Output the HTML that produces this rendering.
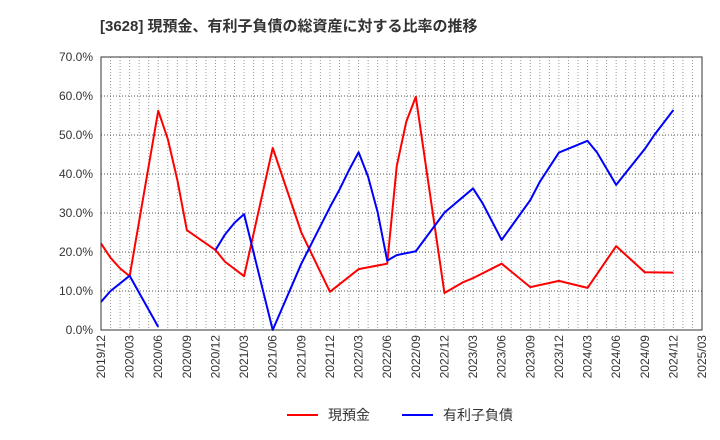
<!DOCTYPE html>
<html><head><meta charset="utf-8"><style>
body{margin:0;background:#fff;}
svg{display:block;font-family:"Liberation Sans","Noto Sans CJK JP",sans-serif;}
</style></head><body>
<svg id="c" width="720" height="440">
<text x="100" y="31" font-size="15" font-weight="bold" fill="#333">[3628]  現預金、有利子負債の総資産に対する比率の推移</text>
<g id="grid"></g><g id="series"></g><g id="axes"></g>
<g>
<line x1="287" y1="415" x2="318" y2="415" stroke="#f00" stroke-width="2"/>
<text x="328" y="420" font-size="14" fill="#333">現預金</text>
<line x1="402" y1="415" x2="433" y2="415" stroke="#00f" stroke-width="2"/>
<text x="443" y="420" font-size="14" fill="#333">有利子負債</text>
</g>
</svg>
<script>
const xTickLabels=["2019/12","2020/03","2020/06","2020/09","2020/12","2021/03","2021/06","2021/09","2021/12","2022/03","2022/06","2022/09","2022/12","2023/03","2023/06","2023/09","2023/12","2024/03","2024/06","2024/09","2024/12","2025/03"];
const yTicks=[0,10,20,30,40,50,60,70];
const cashMonths=[0,1,2,3,6,7,8,9,12,13,15,18,21,24,27,30,31,32,33,36,38,39,42,45,48,51,54,57,60];
const cashValues=[22.2,18.5,15.8,13.8,56.2,49,38.5,25.6,20.5,17.5,13.8,46.7,25,9.8,15.6,17,42,53.4,59.8,9.5,12.3,13.3,17,11,12.6,10.8,21.5,14.8,14.7];
const debtMonths=[0,1,3,6];
const debtValues=[7.2,10,13.9,0.8];
const debtMonths2=[12,13,14,15,18,21,24,25,26,27,28,29,30,31,33,36,39,40,42,45,46,48,51,52,54,57,58,60];
const debtValues2=[20.5,24.5,27.5,29.7,0,17,31.5,36,41,45.6,39.3,30.2,17.8,19.2,20.2,30.1,36.3,32.5,23.1,33.3,38,45.5,48.5,45.5,37.2,46.4,50,56.4];
const L=101,R=702,T=57,B=330,NM=63;
const X=m=>L+(R-L)*m/NM, Y=v=>B-(B-T)*v/70;
const ns="http://www.w3.org/2000/svg";
function mk(t,a,p){const e=document.createElementNS(ns,t);for(const k in a)e.setAttribute(k,a[k]);p.appendChild(e);return e;}
const g=document.getElementById('grid'),s=document.getElementById('series'),ax=document.getElementById('axes');
for(let m=1;m<NM;m++){const l=mk('line',{x1:X(m),x2:X(m),y1:T,y2:B,stroke:'#999','stroke-width':1,'stroke-dasharray':'1,2'},g);
}
yTicks.forEach(v=>{const l=mk('line',{x1:L,x2:R,y1:Y(v),y2:Y(v),stroke:'#555','stroke-width':1,'stroke-dasharray':'1,2'},g);

const t=mk('text',{x:L-8,y:Y(v)+4,'text-anchor':'end','font-size':12,fill:'#333'},ax);t.textContent=v.toFixed(1)+'%';
});
xTickLabels.forEach((lab,i)=>{const x=X(i*3);const t=mk('text',{x:x+4,y:B+5,'text-anchor':'end','font-size':12,fill:'#333',transform:`rotate(-90 ${x+4} ${B+5})`},ax);t.textContent=lab;
});
const fr=mk('rect',{x:L,y:T,width:R-L,height:B-T,fill:'none',stroke:'#333','stroke-width':1},ax);

function line(ms,vs,c,name){const p=mk('polyline',{points:ms.map((m,i)=>X(m)+','+Y(vs[i])).join(' '),fill:'none',stroke:c,'stroke-width':2,'stroke-linejoin':'round'},s);
}
line(cashMonths,cashValues,'#f00','cash-line');
line(debtMonths,debtValues,'#00f','debt-line');
line(debtMonths2,debtValues2,'#00f','debt-line-2');
</script>
</body></html>
